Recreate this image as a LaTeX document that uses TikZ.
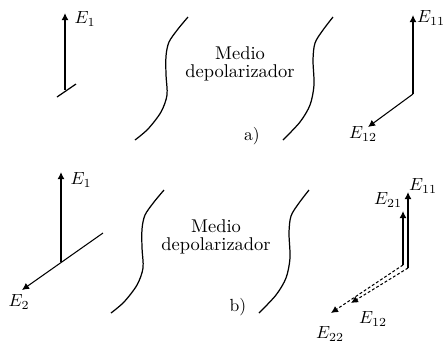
\documentclass[tikz,border=0pt]{standalone}
\usepackage{tikz}
\usetikzlibrary{arrows.meta}

\begin{document}
\begin{tikzpicture}[x=0.02cm, y=-0.02cm,
		>={Latex[length=4pt,width=4pt]},   % Pfeilspitzen
		vec/.style={->, line width=1.1pt},
		vecd/.style={->, line width=0.8pt},
		diag/.style={->, line width=0.6pt},
		punt/.style={->, line width=0.6pt, dash pattern=on 1.6pt off 1.2pt},
		borde/.style={line width=0.7pt},
		lbl/.style={inner sep=0pt},
		medio/.style={align=center, inner sep=0pt, font=\fontsize{10.5}{10.5}\selectfont}]
		\useasboundingbox (0,0) rectangle (445,353);
		% Medio depolarizador (a y b)
		\foreach \dx/\dy/\p in {0/0/a, -24/173/b} {
			\begin{scope}[shift={(\dx,\dy)}]
				\draw[borde] plot[smooth, tension=0.5] coordinates {(188,17) (178,29) (169,42) (166,56) (166,75) (167,95) (161,112) (148,129) (135,140)};
				\draw[borde] plot[smooth, tension=0.5] coordinates {(333,17) (323,30) (315,43) (313,60) (314,85) (310,105) (300,122) (283,140)};
				\node[medio] (medio\p) at (240,64) {Medio\\depolarizador};
			\end{scope}
		}
		\node[lbl] (capa) at (252,136) {a)};
		\node[lbl] (capb) at (238,307) {b)};
		% a) entrada
		\coordinate (Oa) at (65,90);
		\coordinate (E1a) at (65,13);
		\coordinate (ta1) at (57,97);
		\coordinate (ta2) at (76,84);
		\draw[vec] (Oa) -- (E1a);
		\draw[borde] (ta1) -- (ta2);
		\node[lbl] (lE1a) at (85,19) {$E_1$};
		% a) salida
		\coordinate (Ba) at (413,94);
		\coordinate (E11a) at (413,15);
		\coordinate (E12a) at (368,127);
		\draw[vec] (Ba) -- (E11a);
		\draw[diag] (Ba) -- (E12a);
		\node[lbl] (lE11a) at (431,18) {$E_{11}$};
		\node[lbl] (lE12a) at (363,134) {$E_{12}$};
		% b) entrada
		\coordinate (Ob) at (61,262);
		\coordinate (E1b) at (61,172);
		\coordinate (tb) at (103,233);
		\coordinate (E2b) at (22,290);
		\draw[vec] (Ob) -- (E1b);
		\draw[diag] (tb) -- (E2b);
		\node[lbl] (lE1b) at (81,180) {$E_1$};
		\node[lbl] (lE2b) at (19,302) {$E_2$};
		% b) salida
		\coordinate (B21) at (403,265);
		\coordinate (B11) at (408,268);
		\coordinate (E21b) at (403,211);
		\coordinate (E11b) at (408,192);
		\coordinate (E22b) at (331,313);
		\coordinate (E12b) at (351,303);
		\draw[vecd] (B21) -- (E21b);
		\draw[vecd] (B11) -- (E11b);
		\draw[punt] (B21) -- (E22b);
		\draw[punt] (B11) -- (E12b);
		\node[lbl] (lE11b) at (423,186) {$E_{11}$};
		\node[lbl] (lE21b) at (388,200) {$E_{21}$};
		\node[lbl] (lE12b) at (373,319) {$E_{12}$};
		\node[lbl] (lE22b) at (330,334) {$E_{22}$};
\end{tikzpicture}
\end{document}
